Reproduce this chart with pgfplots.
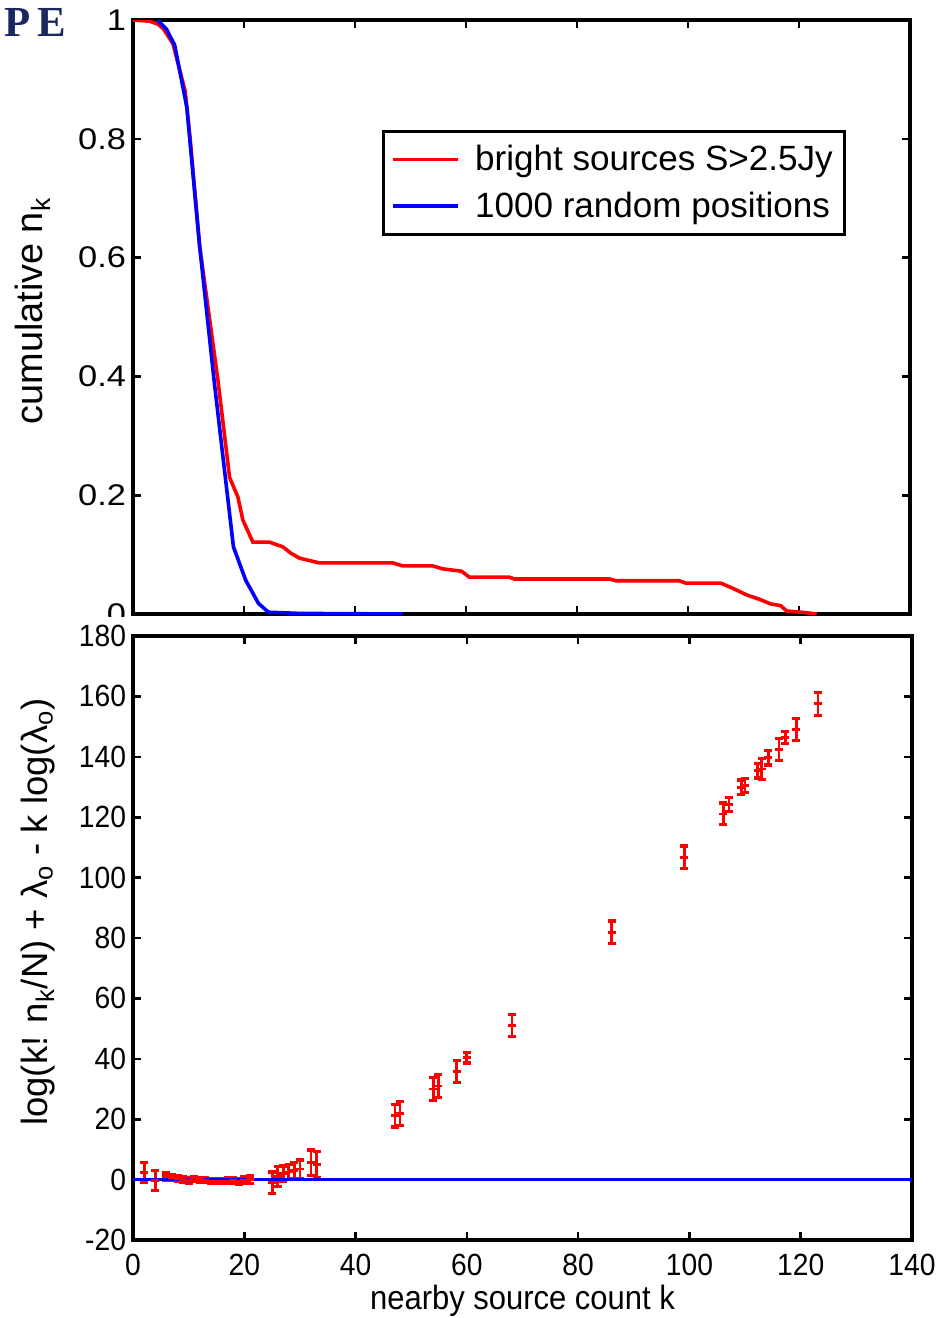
\documentclass[border=0pt]{standalone}
\usepackage{pgfplots}
\pgfplotsset{compat=1.18}
\usepackage{fontspec}
\setmainfont{Liberation Sans}
\newfontfamily\topfont[FakeStretch=1.15]{Liberation Sans}
\newfontfamily\botfont[FakeStretch=0.92]{Liberation Sans}
\newfontfamily\pefont{Liberation Serif}
\definecolor{pecol}{RGB}{25,40,95}
\begin{document}
\begin{tikzpicture}
\useasboundingbox (0bp,0bp) rectangle (471bp,-659bp);
\node[font=\pefont\bfseries\fontsize{21.5}{21.5}\selectfont, text=pecol, inner sep=0pt] at (17.5bp,-11bp) {P\kern3.5bp E};
\begin{axis}[
  at={(66.5bp,-10bp)}, anchor=north west, scale only axis,
  width=388.5bp, height=297bp,
  xmin=0, xmax=140, ymin=0, ymax=1,
  xtick={0,20,40,60,80,100,120,140}, xticklabels={},
  ytick={0,0.2,0.4,0.6,0.8,1}, yticklabels={0,0.2,0.4,0.6,0.8,1},
  tick align=inside, major tick length=3.8bp,
  every tick/.style={black, line width=1.3bp},
  axis line style={line width=1.6bp},
  tick label style={font=\topfont\fontsize{15}{18}\selectfont},
  ylabel={cumulative n\textsubscript{k}},
  ylabel style={font=\fontsize{19}{22}\selectfont, at={(axis description cs:-0.129,0.51)}, anchor=center},
  legend cell align=left,
  legend image code/.code={\draw[#1] (3bp,0bp) -- (35.5bp,0bp);},
  legend style={at={(0.3205,0.815)}, anchor=north west, draw=black, line width=1.5bp,
    font=\fontsize{17.6}{21}\selectfont, inner xsep=4bp, inner ysep=5bp, row sep=5bp,
    /tikz/every odd column/.append style={column sep=5.5bp}},
]
\addplot[red, line width=1.8bp] coordinates {
(0,1.0) (3,0.998) (4.5,0.993) (5.5,0.985) (7.2,0.96) (9.4,0.88) (10.3,0.80) (12,0.62)
(15.3,0.394) (17.4,0.23) (18.9,0.197) (19.8,0.158) (21.6,0.121) (24.6,0.121) (27,0.113)
(28.5,0.102) (30,0.094) (33.6,0.086) (46.8,0.086) (48.6,0.081) (54,0.081) (55.8,0.076)
(59.2,0.072) (60.6,0.062) (67.8,0.062) (68.7,0.059) (85.8,0.059) (87,0.056) (98.4,0.056)
(99.6,0.052) (105.9,0.052) (107.9,0.044) (110.6,0.032) (112.8,0.025) (114.9,0.017)
(116.7,0.014) (117.8,0.005) (120.5,0.003) (123.2,0)
};
\addlegendentry{bright sources S>2.5Jy}
\addplot[blue, line width=1.8bp] coordinates {
(4.5,1.0) (4.9,0.995) (6,0.985) (7.5,0.958) (9.7,0.853) (12,0.62) (14.6,0.394)
(16.0,0.281) (18.1,0.113) (20.3,0.057) (22.6,0.018) (24.4,0.003) (30,0.001) (48.6,0)
};
\addlegendentry{1000 random positions}
\end{axis}
\fill[white] (0bp,-308.5bp) rectangle (64bp,-317.5bp);
\begin{axis}[
  at={(66.5bp,-318bp)}, anchor=north west, scale only axis,
  width=389.5bp, height=302bp,
  xmin=0, xmax=140, ymin=-20, ymax=180,
  xtick={0,20,40,60,80,100,120,140}, xticklabels={0,20,40,60,80,100,120,140},
  ytick={-20,0,20,40,60,80,100,120,140,160,180},
  yticklabels={-20,0,20,40,60,80,100,120,140,160,180},
  tick align=inside, major tick length=3.8bp,
  every tick/.style={black, line width=1.3bp},
  axis line style={line width=1.6bp},
  tick label style={font=\botfont\fontsize{15.4}{18}\selectfont},
  xticklabel style={yshift=-3.5bp},
  xlabel={nearby source count k},
  xlabel style={font=\botfont\fontsize{16.9}{19}\selectfont, at={(axis description cs:0.5,-0.1)}, anchor=center},
  ylabel={log(k! n\textsubscript{k}/N) + λ\textsubscript{o} - k log(λ\textsubscript{o})},
  ylabel style={font=\fontsize{18.3}{21}\selectfont, at={(axis description cs:-0.122,0.543)}, anchor=center},
]
\addplot[red, only marks, mark=-, mark size=2bp, line width=1.3bp,
  error bars/.cd, y dir=both, y explicit,
  error bar style={line width=1.4bp, red},
  error mark options={rotate=90, mark size=2bp, line width=1.6bp, red}]
table[x=k, y=y, y error=e] {
k y e
2 2.4 3.3
4 -0.3 3.3
6 1.0 1.2
7 0.7 1.0
8 0.3 1.0
9 0.0 0.9
10 -0.3 0.9
11 0.1 0.8
12 0.0 0.8
13 -0.2 0.8
14 -0.4 0.8
15 -0.5 0.8
16 -0.5 0.8
17 -0.4 1.0
18 -0.3 1.0
19 -0.5 1.0
20 -0.2 1.2
21 0.0 1.2
25 -1.0 3.5
26 1.0 3.3
27 2.0 2.5
28 2.5 2.5
29 3.0 2.6
30 3.5 3.0
32 5.6 4.2
33 5.0 4.2
47.1 21.2 3.8
48 21.8 4.0
54 30.0 3.7
54.9 31.0 3.7
58.2 35.8 3.6
60 40.4 1.8
68.1 51.0 3.7
86 81.9 3.7
99.1 106.7 3.8
106.1 121.1 3.6
107.1 124.2 2.4
109.3 129.9 2.4
110 130.5 2.4
112.3 135.4 2.4
113 136.0 3.5
114.2 139.7 2.4
116.1 142.4 3.7
117.2 146.4 2.0
119.2 149.0 3.6
123.1 157.6 3.8
};
\addplot[blue, line width=1.8bp] coordinates {(0,0) (140,0)};
\end{axis}
\end{tikzpicture}
\end{document}
